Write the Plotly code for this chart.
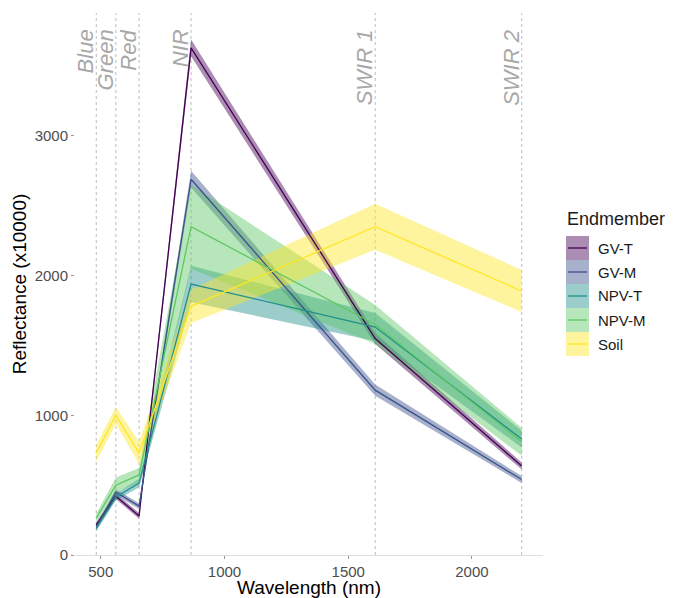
import plotly.graph_objects as go

# ---- data ----
bands = ["Blue", "Green", "Red", "NIR", "SWIR 1", "SWIR 2"]
wavelength = [482, 561, 655, 865, 1609, 2201]

endmembers = ["GV-T", "GV-M", "NPV-T", "NPV-M", "Soil"]
gv_t_mean = [215, 420, 280, 3630, 1550, 637]
gv_t_sd = [20, 20, 20, 60, 40, 25]
gv_m_mean = [200, 450, 350, 2690, 1180, 540]
gv_m_sd = [20, 20, 20, 60, 40, 25]
npv_t_mean = [190, 415, 515, 1940, 1632, 830]
npv_t_sd = [20, 25, 30, 130, 100, 60]
npv_m_mean = [265, 500, 573, 2350, 1650, 810]
npv_m_sd = [30, 55, 50, 300, 140, 100]
soil_mean = [730, 1000, 730, 1780, 2350, 1890]
soil_sd = [60, 60, 80, 120, 165, 150]

means = [gv_t_mean, gv_m_mean, npv_t_mean, npv_m_mean, soil_mean]
sds = [gv_t_sd, gv_m_sd, npv_t_sd, npv_m_sd, soil_sd]
colors = ["#440154", "#3B528B", "#21908C", "#5DC863", "#FDE725"]

x_ticks = [500, 1000, 1500, 2000]
y_ticks = [0, 1000, 2000, 3000]

ALPHA = 0.45


def rgba(hex_color, a):
    h = hex_color.lstrip("#")
    r, g, b = int(h[0:2], 16), int(h[2:4], 16), int(h[4:6], 16)
    return f"rgba({r},{g},{b},{a})"


FONT = "Liberation Sans, Arial, Helvetica, sans-serif"

fig = go.Figure()

# ribbons
for name, m, s, c in zip(endmembers, means, sds, colors):
    upper = [a + b for a, b in zip(m, s)]
    lower = [a - b for a, b in zip(m, s)]
    fig.add_trace(go.Scatter(
        x=wavelength + wavelength[::-1],
        y=upper + lower[::-1],
        fill="toself", fillcolor=rgba(c, ALPHA),
        line=dict(width=0), mode="lines",
        hoverinfo="skip", showlegend=False, name=name,
    ))

# lines
for name, m, c in zip(endmembers, means, colors):
    fig.add_trace(go.Scatter(
        x=wavelength, y=m, mode="lines",
        line=dict(color=c, width=1.3), name=name, showlegend=False,
    ))

# band reference lines and labels
for b, w in zip(bands, wavelength):
    fig.add_shape(type="line", xref="x", yref="paper", x0=w, x1=w, y0=0, y1=1,
                  line=dict(color="#bdbdbd", width=1, dash="3px,3px"), layer="below")
    fig.add_annotation(x=w, y=0.973, xref="x", yref="paper", text=b,
                       textangle=-90, xanchor="right", yanchor="top",
                       showarrow=False, xshift=4,
                       font=dict(family=FONT, size=22, color="#a8a8a8", style="italic"))

# page offset (browser body margin)
OFF = 8
W, H = 673 - OFF, 598 - OFF
L, T, PW, PH = 75 - OFF, 13 - OFF, 468, 542


def px(xp):
    return (xp - OFF - L) / PW


def py(yp):
    return (T + PH - (yp - OFF)) / PH


# manual legend (page pixel positions converted to paper coordinates)
fig.add_annotation(x=px(565), y=py(219), xref="paper", yref="paper", text="Endmember",
                   xanchor="left", yanchor="middle", showarrow=False,
                   font=dict(family=FONT, size=18, color="#1a1a1a"))
for i, (name, c) in enumerate(zip(endmembers, colors)):
    top = 236 + 24 * i
    fig.add_shape(type="rect", xref="paper", yref="paper",
                  x0=px(566), x1=px(589), y0=py(top + 24), y1=py(top),
                  fillcolor=rgba(c, ALPHA), line=dict(width=0))
    fig.add_shape(type="line", xref="paper", yref="paper",
                  x0=px(568), x1=px(587), y0=py(top + 12), y1=py(top + 12),
                  line=dict(color=c, width=1.3))
    fig.add_annotation(x=px(596), y=py(top + 12), xref="paper", yref="paper", text=name,
                       xanchor="left", yanchor="middle", showarrow=False,
                       font=dict(family=FONT, size=15, color="#1a1a1a"))

fig.update_layout(
    width=W, height=H,
    margin=dict(l=L, r=W - L - PW, t=T, b=H - T - PH, autoexpand=False),
    plot_bgcolor="white", paper_bgcolor="white",
    showlegend=False,
    font=dict(family=FONT),
)
fig.update_xaxes(
    range=[396, 2287], tickvals=x_ticks, ticktext=[str(v) for v in x_ticks],
    showgrid=False, zeroline=False, automargin=False,
    showline=True, linecolor="#dedede", linewidth=1,
    ticks="outside", ticklen=3, tickcolor="#999999", tickwidth=1,
    tickfont=dict(family=FONT, size=15, color="#4d4d4d"),
    title=dict(text="Wavelength (nm)", font=dict(family=FONT, size=19, color="#000000"), standoff=4),
)
fig.update_yaxes(
    range=[0, 3880], tickvals=y_ticks, ticktext=[str(v) for v in y_ticks],
    showgrid=False, zeroline=False, showline=False, automargin=False,
    ticks="outside", ticklen=3, tickcolor="#999999", tickwidth=1,
    tickfont=dict(family=FONT, size=15, color="#4d4d4d"),
    title=dict(text="Reflectance (x10000)", font=dict(family=FONT, size=19, color="#000000"), standoff=2),
)

fig.write_html("out.html")
